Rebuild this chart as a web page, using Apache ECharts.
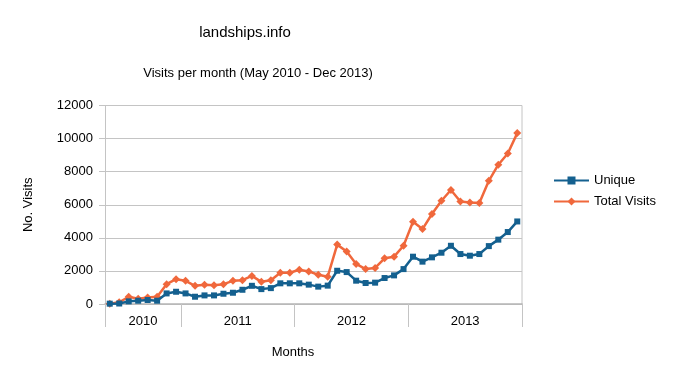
<!DOCTYPE html>
<html>
<head>
<meta charset="utf-8">
<script src="https://cdn.jsdelivr.net/npm/echarts@6/dist/echarts.min.js"></script>
<style>
  html, body { margin: 0; padding: 0; background: #fff; }
  #chart { width: 675px; height: 375px; }
</style>
</head>
<body>
<div id="chart"></div>
<script>
const years = ["2010", "2011", "2012", "2013"];
const monthsPerYear = [8, 12, 12, 12];
const monthNames = ["Jan", "Feb", "Mar", "Apr", "May", "Jun", "Jul", "Aug", "Sep", "Oct", "Nov", "Dec"];

const unique = [
  20, 30, 160, 200, 240, 200, 640, 740,
  640, 440, 520, 520, 620, 680, 860, 1100, 900, 960, 1250, 1250,
  1250, 1170, 1050, 1110, 2010, 1930, 1410, 1270, 1290, 1570, 1730, 2110,
  2860, 2560, 2820, 3100, 3520, 3020, 2920, 3020, 3500, 3890, 4350, 4990,
];
const total = [
  20, 100, 440, 320, 400, 440, 1200, 1500,
  1400, 1100, 1160, 1140, 1200, 1400, 1440, 1700, 1340, 1440, 1890, 1890,
  2070, 1970, 1770, 1650, 3590, 3180, 2420, 2110, 2180, 2760, 2860, 3520,
  4970, 4530, 5440, 6240, 6890, 6200, 6140, 6100, 7450, 8420, 9100, 10330,
];
const yTicks = [0, 2000, 4000, 6000, 8000, 10000, 12000];

// month categories, May 2010 .. Dec 2013
const categories = [];
years.forEach((y, i) => {
  const first = 12 - monthsPerYear[i];
  for (let m = first; m < 12; m++) categories.push(monthNames[m] + " " + y);
});

// year group boundaries and centres on a 0..N scale
const bounds = [0];
monthsPerYear.forEach((n) => bounds.push(bounds[bounds.length - 1] + n));
const centres = years.map((_, i) => (bounds[i] + bounds[i + 1]) / 2);

const font = "Liberation Sans, Arial, sans-serif";
const gridColor = "#c4c4c4";
const blue = "#14608f";
const orange = "#f0683c";

const chart = echarts.init(document.getElementById("chart"));
chart.setOption({
  animation: false,
  textStyle: { fontFamily: font, color: "#000" },
  title: [
    { text: "landships.info", left: 240, top: 20, textAlign: "center",
      textStyle: { fontSize: 15, fontWeight: "normal", color: "#000" } },
    { text: "Visits per month (May 2010 - Dec 2013)", left: 253, top: 62, textAlign: "center",
      textStyle: { fontSize: 13, fontWeight: "normal", color: "#000" } },
    { text: "Months", left: 288, top: 341, textAlign: "center",
      textStyle: { fontSize: 13, fontWeight: "normal", color: "#000" } },
  ],
  legend: {
    orient: "vertical",
    left: 553,
    top: 174,
    padding: 0,
    itemWidth: 35,
    itemHeight: 10,
    itemGap: 8,
    textStyle: { fontSize: 13, color: "#000", fontFamily: font },
    data: ["Unique", "Total Visits"],
  },
  grid: { left: 105, right: 153, top: 105.5, bottom: 71 },
  xAxis: [
    {
      type: "category",
      data: categories,
      boundaryGap: true,
      axisLine: { lineStyle: { color: "#b5b5b5", width: 1.5 } },
      axisTick: { interval: 0, length: 6, lineStyle: { color: gridColor } },
      axisLabel: { show: false },
      splitLine: { show: false },
    },
    {
      type: "value",
      position: "bottom",
      min: 0,
      max: bounds[bounds.length - 1],
      axisLine: { show: false },
      axisTick: { show: true, customValues: bounds, length: 23, lineStyle: { color: gridColor } },
      axisLabel: {
        customValues: centres,
        margin: 11,
        fontSize: 13,
        color: "#000",
        formatter: (v) => years[centres.indexOf(v)] || "",
      },
      splitLine: { show: false },
    },
  ],
  yAxis: {
    type: "value",
    min: yTicks[0],
    max: yTicks[yTicks.length - 1],
    interval: 2000,
    name: "No. Visits",
    nameLocation: "middle",
    nameGap: 70,
    nameTextStyle: { fontSize: 13, color: "#000" },
    axisLine: { show: true, lineStyle: { color: gridColor } },
    axisTick: { show: true, length: 6, lineStyle: { color: gridColor } },
    axisLabel: { fontSize: 13, color: "#000", margin: 12, formatter: (v) => String(v) },
    splitLine: { lineStyle: { color: gridColor } },
  },
  series: [
    {
      name: "Unique",
      type: "line",
      data: unique,
      symbol: "rect",
      symbolSize: 6,
      showAllSymbol: true,
      lineStyle: { color: blue, width: 2.5 },
      itemStyle: { color: blue },
      z: 3,
    },
    {
      name: "Total Visits",
      type: "line",
      data: total,
      symbol: "diamond",
      symbolSize: 8,
      showAllSymbol: true,
      lineStyle: { color: orange, width: 2.5 },
      itemStyle: { color: orange },
      z: 2,
    },
  ],
  graphic: [
    { type: "line", shape: { x1: 522, y1: 105.5, x2: 522, y2: 304 }, style: { stroke: gridColor, lineWidth: 1 } },
  ],
});
</script>
</body>
</html>
